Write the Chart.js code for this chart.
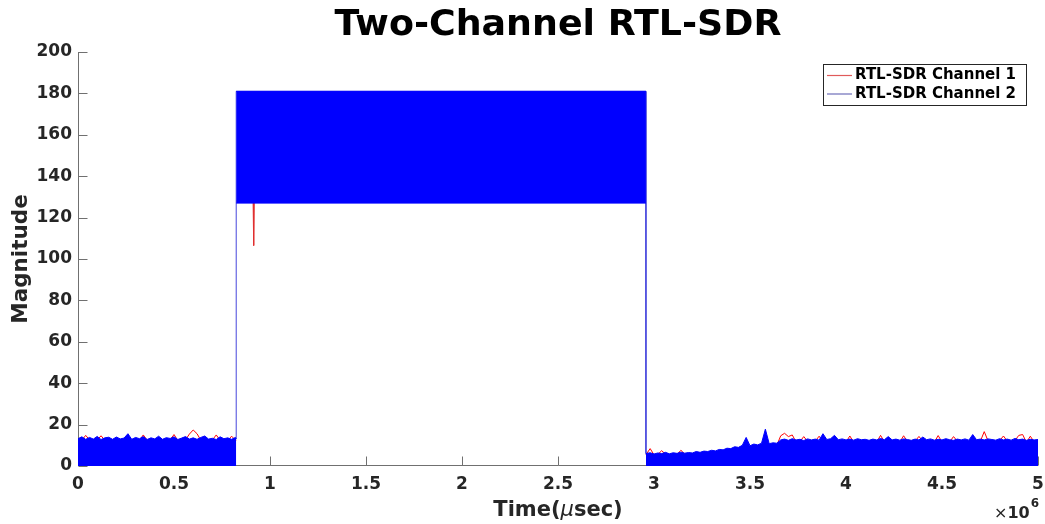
<!DOCTYPE html>
<html><head><meta charset="utf-8">
<script src="https://cdn.jsdelivr.net/npm/chart.js@4.4.1/dist/chart.umd.min.js"></script>
<style>html,body{margin:0;padding:0;background:#fff;overflow:hidden}#wrap{width:1045px;height:524px;position:relative}</style>
</head><body><div id="wrap"><canvas id="c" width="1045" height="524"></canvas></div>
<script>
// ---------- text ----------
const chartTitle = 'Two-Channel RTL-SDR';
const seriesNames = ['RTL-SDR Channel 1', 'RTL-SDR Channel 2'];
const xAxisTitleParts = ['Time(', '\u03BC', 'sec)'];
const yAxisTitle = 'Magnitude';
const xMultiplier = ['\u00D7', '10', '6'];

// ---------- ticks ----------
const xTickValues = [0, 0.5, 1, 1.5, 2, 2.5, 3, 3.5, 4, 4.5, 5];
const xTickLabels = ['0', '0.5', '1', '1.5', '2', '2.5', '3', '3.5', '4', '4.5', '5'];
const yTickValues = [0, 20, 40, 60, 80, 100, 120, 140, 160, 180, 200];
const yTickLabels = ['0', '20', '40', '60', '80', '100', '120', '140', '160', '180', '200'];

// ---------- data (time in units of 10^6 usec) ----------
// noise before the pulse
const seg1Times = [0,0.02,0.04,0.06,0.08,0.10,0.12,0.14,0.16,0.18,0.20,0.22,0.24,0.26,0.28,0.30,0.32,0.34,0.36,0.38,0.40,0.42,0.44,0.46,0.48,0.50,0.52,0.54,0.56,0.58,0.60,0.62,0.64,0.66,0.68,0.70,0.72,0.74,0.76,0.78,0.80,0.82,0.824];
const ch2Seg1 = [13.2,14.1,12.9,13.8,13.0,14.3,12.8,13.6,13.9,12.9,14.0,13.1,13.5,15.6,12.9,13.8,13.2,14.2,12.8,13.6,13.1,14.4,12.9,13.7,13.3,14.1,12.8,13.5,14.2,13.0,13.6,12.9,13.8,14.5,13.0,13.4,12.8,14.1,13.2,13.6,12.9,13.8,13.0];
const ch1Seg1 = [12.5,12.4,14.8,12.6,12.3,12.5,14.6,12.4,12.6,12.3,12.5,12.4,12.6,12.5,12.3,12.6,12.4,15.0,12.5,12.3,12.6,12.4,12.5,12.3,12.6,15.2,12.4,12.5,12.6,15.4,17.4,15.6,12.4,12.5,12.3,12.6,15.0,12.4,12.5,12.3,14.4,12.5,12.4];

// pulse
const pulseTimes = [0.824, 2.958];
const ch2PulseTop = [181, 181];
const ch2PulseBottom = [127, 127];
const ch1PulseTimes = [0.824, 0.912, 0.915, 0.918, 2.958];
const ch1PulseLow = [128, 128, 106.5, 128, 128];

// noise after the pulse
const seg2Times = [2.958,2.98,3.00,3.02,3.04,3.06,3.08,3.10,3.12,3.14,3.16,3.18,3.20,3.22,3.24,3.26,3.28,3.30,3.32,3.34,3.36,3.38,3.40,3.42,3.44,3.46,3.48,3.50,3.52,3.54,3.56,3.58,3.60,3.62,3.64,3.66,3.68,3.70,3.72,3.74,3.76,3.78,3.80,3.82,3.84,3.86,3.88,3.90,3.92,3.94,3.96,3.98,4.00,4.02,4.04,4.06,4.08,4.10,4.12,4.14,4.16,4.18,4.20,4.22,4.24,4.26,4.28,4.30,4.32,4.34,4.36,4.38,4.40,4.42,4.44,4.46,4.48,4.50,4.52,4.54,4.56,4.58,4.60,4.62,4.64,4.66,4.68,4.70,4.72,4.74,4.76,4.78,4.80,4.82,4.84,4.86,4.88,4.90,4.92,4.94,4.96,4.98,5.00];
const ch2Seg2 = [6.0,6.4,5.8,6.3,6.0,6.6,5.9,6.4,6.1,6.7,6.2,6.5,6.3,7.0,6.6,7.2,7.0,7.6,7.3,8.0,7.8,8.6,8.4,9.3,9.0,10.0,13.8,9.8,10.6,10.2,11.0,17.8,10.8,11.2,11.0,12.6,13.0,12.4,13.2,12.6,12.9,12.3,13.1,12.6,13.0,12.5,15.6,12.8,13.2,14.8,12.7,13.1,12.6,13.0,12.5,13.2,12.7,12.9,12.4,13.0,12.6,13.3,12.7,14.2,12.6,13.0,12.5,13.1,12.8,12.4,13.0,12.6,14.0,12.7,13.1,12.5,12.9,12.6,13.2,12.7,12.4,13.0,12.6,13.1,12.5,15.2,12.7,13.0,12.6,13.1,12.8,12.5,13.2,12.6,13.0,12.5,13.3,12.7,13.0,12.4,12.9,12.6,12.8];
const ch1Seg2 = [5.5,8.4,5.4,5.6,7.4,5.7,5.5,5.8,5.6,7.6,5.8,5.9,5.7,6.2,6.0,6.4,6.3,6.8,6.6,7.2,7.0,7.8,7.6,8.4,8.2,9.1,9.0,8.9,9.7,9.4,10.0,10.2,10.0,10.3,10.1,14.6,15.8,14.2,15.0,11.6,11.8,14.2,11.9,11.6,12.0,14.4,11.7,11.8,12.1,11.6,11.7,12.0,11.6,14.5,11.5,12.1,11.7,11.9,11.4,12.0,11.6,14.8,11.7,11.9,11.6,12.0,11.5,14.6,11.8,11.4,12.0,14.3,11.9,11.7,12.1,11.5,14.7,11.6,12.2,11.7,14.2,12.0,11.6,12.1,11.5,11.9,11.7,12.0,16.6,12.1,11.8,11.5,12.2,14.5,12.0,11.5,12.3,14.8,15.2,11.4,14.4,11.6,11.8];

// ---------- styles ----------
const BLUE = '#0000ff';
const RED = '#ff0000';
const FONT = '"DejaVu Sans", "Liberation Sans", sans-serif';

const pts = (xs, ys) => xs.map((x, i) => ({ x: x, y: ys[i] }));

const datasets = [
  { label: seriesNames[1], data: pts(seg1Times, ch2Seg1), borderColor: BLUE, backgroundColor: BLUE, borderWidth: 1, fill: 'origin', order: 0 },
  { label: seriesNames[1], data: pts(seg2Times, ch2Seg2), borderColor: BLUE, backgroundColor: BLUE, borderWidth: 1, fill: 'origin', order: 0 },
  { label: seriesNames[1], data: pts(pulseTimes, ch2PulseTop), borderColor: BLUE, backgroundColor: BLUE, borderWidth: 1, fill: 3, order: 0 },
  { label: seriesNames[1], data: pts(pulseTimes, ch2PulseBottom), borderColor: BLUE, borderWidth: 1, fill: false, order: 0 },
  { label: seriesNames[1], data: [
      { x: pulseTimes[0], y: ch2Seg1[ch2Seg1.length - 1] }, { x: pulseTimes[0], y: ch2PulseTop[0] },
      { x: pulseTimes[1], y: ch2PulseTop[1] }, { x: pulseTimes[1], y: ch2Seg2[0] }],
    borderColor: '#4646dc', borderWidth: 1, fill: false, order: 0 },
  { label: seriesNames[0], data: pts(seg1Times, ch1Seg1), borderColor: RED, borderWidth: 1, fill: false, order: 1 },
  { label: seriesNames[0], data: pts(seg2Times, ch1Seg2), borderColor: RED, borderWidth: 1, fill: false, order: 1 },
  { label: seriesNames[0], data: pts(ch1PulseTimes, ch1PulseLow), borderColor: '#e03030', borderWidth: 1, fill: false, order: 1 }
];

function fitFont(ctx, text, weight, target, family) {
  ctx.font = weight + ' 100px ' + family;
  return 100 * target / ctx.measureText(text).width;
}

const decor = {
  id: 'decor',
  beforeDatasetsDraw(chart) {
    const { ctx, chartArea: a, scales } = chart;
    ctx.save();
    ctx.strokeStyle = '#707070';
    ctx.lineWidth = 1;
    ctx.beginPath();
    const L = Math.round(a.left) + 0.5, B = Math.round(a.bottom) - 0.5;
    ctx.moveTo(L, a.top); ctx.lineTo(L, B); ctx.lineTo(a.right, B);
    xTickValues.forEach(v => { const px = Math.round(scales.x.getPixelForValue(v)) + 0.5; ctx.moveTo(px, B); ctx.lineTo(px, B - 9); });
    yTickValues.forEach(v => { const py = Math.round(scales.y.getPixelForValue(v)) + 0.5; ctx.moveTo(L, py); ctx.lineTo(L + 9, py); });
    ctx.stroke();
    ctx.restore();
  },
  afterDraw(chart) {
    const { ctx, chartArea: a } = chart;
    ctx.save();
    // title
    const ts = fitFont(ctx, chartTitle, 'bold', 447, FONT);
    ctx.font = 'bold ' + ts + 'px ' + FONT;
    ctx.fillStyle = '#000';
    ctx.textAlign = 'center';
    ctx.textBaseline = 'alphabetic';
    ctx.fillText(chartTitle, (a.left + a.right) / 2, 35);

    // y title
    ctx.save();
    ctx.translate(21, (a.top + a.bottom) / 2);
    ctx.rotate(-Math.PI / 2);
    ctx.font = 'bold 21.5px ' + FONT;
    ctx.fillStyle = '#262626';
    ctx.textBaseline = 'middle';
    ctx.fillText(yAxisTitle, 0, 0);
    ctx.restore();

    // x title
    const fonts = ['bold 21px ' + FONT, 'italic 21px ' + FONT, 'bold 21px ' + FONT];
    let widths = xAxisTitleParts.map((t, i) => { ctx.font = fonts[i]; return ctx.measureText(t).width; });
    let total = widths.reduce((s, w) => s + w, 0);
    let x0 = (a.left + a.right) / 2 - total / 2;
    ctx.textAlign = 'left';
    ctx.fillStyle = '#262626';
    xAxisTitleParts.forEach((t, i) => { ctx.font = fonts[i]; ctx.fillText(t, x0, 516); x0 += widths[i]; });

    // x10^6
    let mx = 994;
    ctx.font = '16px ' + FONT; ctx.fillText(xMultiplier[0], mx, 518); mx += ctx.measureText(xMultiplier[0]).width;
    ctx.font = 'bold 16px ' + FONT; ctx.fillText(xMultiplier[1], mx, 518); mx += ctx.measureText(xMultiplier[1]).width + 1;
    ctx.font = 'bold 12px ' + FONT; ctx.fillText(xMultiplier[2], mx, 507);

    // legend
    const bx = 823.5, by = 64.5, bw = 203, bh = 41;
    ctx.fillStyle = '#fff';
    ctx.fillRect(bx, by, bw, bh);
    ctx.strokeStyle = '#262626';
    ctx.lineWidth = 1;
    ctx.strokeRect(bx, by, bw, bh);
    const rows = [75.5, 94];
    const lc = ['#e05a5a', '#6e6eb9'];
    ctx.font = 'bold 15px ' + FONT;
    ctx.textBaseline = 'middle';
    seriesNames.forEach((n, i) => {
      ctx.beginPath();
      ctx.strokeStyle = lc[i];
      ctx.lineWidth = 1.2;
      ctx.moveTo(827, rows[i]); ctx.lineTo(852, rows[i]);
      ctx.stroke();
      ctx.fillStyle = '#000';
      ctx.fillText(n, 855, rows[i]);
    });
    ctx.restore();
  }
};

new Chart(document.getElementById('c'), {
  type: 'line',
  data: { datasets: datasets },
  options: {
    responsive: false,
    animation: false,
    devicePixelRatio: 1,
    events: [],
    layout: { padding: { top: 52, right: 7, left: 0, bottom: 0 } },
    elements: { point: { radius: 0 }, line: { tension: 0 } },
    plugins: { legend: { display: false }, title: { display: false }, tooltip: { enabled: false }, filler: { drawTime: 'beforeDatasetDraw' } },
    scales: {
      x: {
        type: 'linear', min: 0, max: 5,
        grid: { display: false }, border: { display: false },
        afterFit: s => { s.height = 58; s.paddingLeft = 0; s.paddingRight = 0; },
        afterBuildTicks: s => { s.ticks = xTickValues.map(v => ({ value: v })); },
        ticks: { autoSkip: false, maxRotation: 0, padding: 0, color: '#262626', font: { family: FONT, size: 17, weight: 'bold' },
          callback: (v, i) => xTickLabels[i] }
      },
      y: {
        min: 0, max: 200,
        grid: { display: false }, border: { display: false },
        afterFit: s => { s.width = 78; s.paddingTop = 0; s.paddingBottom = 0; },
        afterBuildTicks: s => { s.ticks = yTickValues.map(v => ({ value: v })); },
        ticks: { autoSkip: false, padding: -2, color: '#262626', font: { family: FONT, size: 17, weight: 'bold' },
          callback: (v, i) => yTickLabels[i] }
      }
    }
  },
  plugins: [decor]
});
</script>
</body></html>
